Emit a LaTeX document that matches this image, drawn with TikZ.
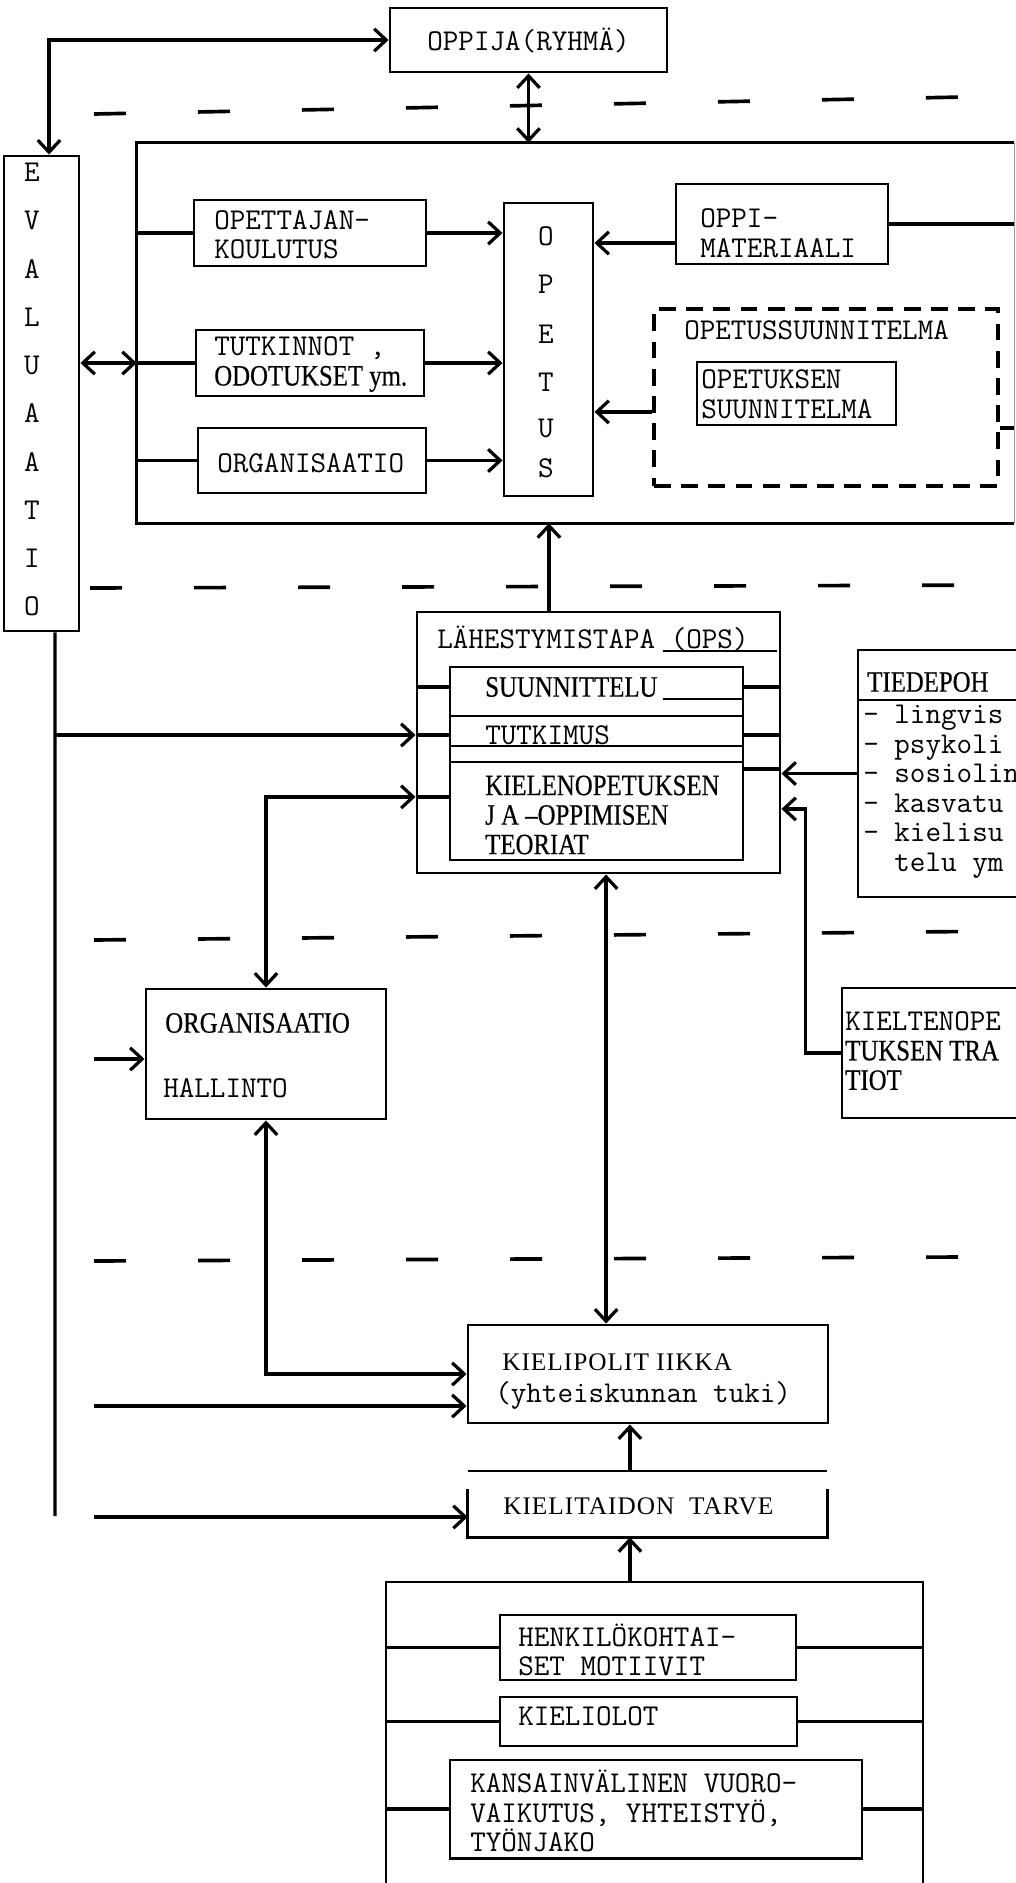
\documentclass[tikz,border=0pt]{standalone}
\usepackage{fontspec}
\usepackage{tikz}
\usetikzlibrary{arrows.meta}
\newfontfamily\serifcond[FakeStretch=0.84,FakeBold=0.5]{Liberation Serif}
\newfontfamily\serifspaced[LetterSpace=4]{Liberation Serif}
\newcommand\condtxt{\fontsize{21}{21}\selectfont\serifcond}

\tikzset{
  box/.style={draw, line width=2.1pt, inner sep=0pt},
  dbox/.style={draw, line width=2.6pt, dash pattern=on 4.2mm off 2.6mm, inner sep=0pt},
  tw/.style={font=\fontsize{21.5}{21}\selectfont\ttfamily, inner sep=0pt, anchor=west, align=left},
  tr/.style={font=\condtxt, inner sep=0pt, anchor=west, align=left},
  ts/.style={font=\fontsize{18}{21}\selectfont\serifspaced, inner sep=0pt, anchor=west},
  link/.style={line width=2.3pt},
  sep/.style={line width=2.6pt, dash pattern=on 8mm off 18mm},
  >={Straight Barb[length=3mm,width=5.6mm]}
}

\begin{document}
\begin{tikzpicture}[x=0.25mm, y=-0.25mm]
    \useasboundingbox (0,0) rectangle (1016,1883);
    \clip (0,0) rectangle (1016,1883);
    \fill[white] (0,0) rectangle (1016,1883);

    % dashed level lines
    \draw[sep] (94,114) -- (1016,96);
    \draw[sep] (90,588) -- (1016,585);
    \draw[sep] (94,940) -- (1016,931);
    \draw[sep] (94,1261) -- (961,1257);

    % learner, evaluation, teaching
    \node[box, tw, anchor=center, minimum width=69.25mm, minimum height=16mm] (oppija) at (528.5,40) {OPPIJA(RYHMÄ)};
    \node[box, minimum width=18.75mm, minimum height=118.75mm] (eval) at (41.5,393.5) {};
    \foreach \ch [count=\i from 0] in {E,V,A,L,U,A,A,T,I,O}
        \node[tw, anchor=center] (ev\i) at (32,{172+48.3*\i}) {\ch};

    \node[inner sep=0pt, minimum width=219.25mm, minimum height=95mm] (frame) at (575.5,333) {};
    \draw[line width=2.3pt] (frame.north east) -- (frame.north west) -- (frame.south west) -- (frame.south east);
    \draw[line width=0.6pt, black!40] (frame.north east) -- (frame.south east);

    \node[box, minimum width=58mm, minimum height=16.5mm] (opk) at (310,233) {};
    \node[tw] (t-opk) at (214,234.5) {OPETTAJAN-\\KOULUTUS};
    \node[box, minimum width=57mm, minimum height=16.5mm] (tutk) at (310,363) {};
    \node[tw] (t-tutk) at (214,364.5) {TUTKINNOT ,\\{\condtxt ODOTUKSET ym.}};
    \node[box, minimum width=57mm, minimum height=16.25mm] (org1) at (312,460.5) {};
    \node[tw] (t-org1) at (217,463) {ORGANISAATIO};

    \node[box, minimum width=22.25mm, minimum height=73.25mm] (opetus) at (548.5,349.5) {};
    \foreach \ch/\yy [count=\i] in {O/236,P/284,E/334,T/382,U/428,S/468}
        \node[tw, anchor=center] (op\i) at (546,\yy) {\ch};

    \node[box, minimum width=53mm, minimum height=20mm] (oppim) at (782,224) {};
    \node[tw] (t-oppim) at (700,233.5) {OPPI-\\MATERIAALI};
    \node[dbox, minimum width=86mm, minimum height=44.25mm] (ops) at (826,397.5) {};
    \node[tw] (t-ops) at (684,330) {OPETUSSUUNNITELMA};
    \node[box, minimum width=49.75mm, minimum height=15.75mm] (opsuun) at (796.5,393.5) {};
    \node[tw] (t-opsuun) at (701,394) {OPETUKSEN\\SUUNNITELMA};

    \coordinate (evx) at (49,43);
    \draw[link, <->] (eval.north -| evx) |- (oppija.west);
    \draw[link, <->] (oppija.south) -- (oppija.south |- frame.north);
    \draw[link, <->] (eval.east |- tutk.west) -- (frame.west |- tutk.west);
    \draw[link] (frame.west |- opk.west) -- (opk.west);
    \draw[link] (frame.west |- tutk.west) -- (tutk.west);
    \draw[link] (frame.west |- org1.west) -- (org1.west);
    \draw[link, ->] (opk.east) -- (opk.east -| opetus.west);
    \draw[link, ->] (tutk.east) -- (tutk.east -| opetus.west);
    \draw[link, ->] (org1.east) -- (org1.east -| opetus.west);
    \coordinate (oppimin) at ([yshift=-4.75mm]oppim.west);
    \draw[link, ->] (oppimin) -- (oppimin -| opetus.east);
    \draw[link] (oppim.east) -- (oppim.east -| frame.east);
    \coordinate (opsin) at ([yshift=-3.6mm]ops.west);
    \draw[link, ->] (opsin) -- (opsin -| opetus.east);
    \coordinate (opsout) at ([yshift=-7.6mm]ops.east);
    \draw[link] (opsout) -- (opsout -| frame.east);

    % approach (OPS)
    \node[box, minimum width=90.75mm, minimum height=65.25mm] (lah) at (598.5,742.5) {};
    \node[tw] (t-lah) at (437,638) {LÄHESTYMISTAPA (OPS)};
    \draw[line width=1.4pt] (663,651) -- (777,651);
    \node[box, minimum width=73.25mm, minimum height=48.25mm] (lahin) at (596.5,763.5) {};
    \foreach \dy in {12.5,20,24}
        \draw[line width=1.4pt] ([yshift=-\dy*1mm]lahin.north west) -- ([yshift=-\dy*1mm]lahin.north east);
    \node[tr] (t-suun) at (485,687) {SUUNNITTELU};
    \draw[line width=1.4pt] (663,699) -- (743,699);
    \node[tw] (t-tutkimus) at (485,735) {TUTKIMUS};
    \node[tr] (t-kielen) at (485,815) {KIELENOPETUKSEN\\J A –OPPIMISEN\\TEORIAT};

    \draw[link] (lah.west |- t-suun) -- (lahin.west |- t-suun);
    \draw[link] (lahin.east |- t-suun) -- (lah.east |- t-suun);
    \draw[link] (lah.west |- t-tutkimus) -- (lahin.west |- t-tutkimus);
    \draw[link] (lahin.east |- t-tutkimus) -- (lah.east |- t-tutkimus);
    \coordinate (lahk) at ([yshift=-13.6mm]lah.west);
    \draw[link] (lahk) -- (lahk -| lahin.west);
    \coordinate (lahr) at ([yshift=-6.6mm]lah.east);
    \draw[link] (lahr -| lahin.east) -- (lahr);

    \coordinate (lahup) at ([xshift=-12.4mm]lah.north);
    \draw[link, ->] (lahup) -- (lahup |- frame.south);
    \coordinate (evb) at ([xshift=3.4mm]eval.south);
    \coordinate (evend) at (55,1516);
    \draw[link] (evb) -- (evend);
    \draw[link, ->] (evb |- t-tutkimus) -- (lah.west |- t-tutkimus);

    % science base and traditions
    \node[box, minimum width=40.5mm, minimum height=61.75mm] (tiede) at (939,773.5) {};
    \node[tr] (t-tiede) at (867,682) {TIEDEPOH};
    \draw[line width=1.6pt] (858,700) -- (1016,700);
    \node[tw] (t-lista) at (863,791.5) {- lingvis\\- psykoli\\- sosiolin\\- kasvatu\\- kielisu\\\hphantom{- }telu ym};
    \draw[link, ->] (tiede.west) -- (tiede.west -| lah.east);

    \node[box, minimum width=44.5mm, minimum height=32.5mm] (kt) at (931,1053) {};
    \node[tw] (t-kt) at (845,1051) {KIELTENOPE\\{\condtxt TUKSEN TRA}\\{\condtxt TIOT}};
    \coordinate (ktin) at ([yshift=-16.6mm]lah.east);
    \coordinate (ktx) at ([xshift=-8.75mm]kt.west);
    \draw[link, ->] (kt.west) -- (ktx) |- (ktin);

    % administration and language policy
    \node[box, minimum width=60mm, minimum height=32.5mm] (hall) at (266,1054) {};
    \node[tr] (t-hall1) at (165,1023) {ORGANISAATIO};
    \node[tw] (t-hall2) at (163,1088) {HALLINTO};
    \draw[link, <->] (hall.north) |- (lahk);

    \node[box, minimum width=90mm, minimum height=24.5mm] (kp) at (648,1374) {};
    \node[ts] (t-kp1) at (502,1362) {KIELIPOLIT IIKKA};
    \node[tw] (t-kp2) at (495,1395) {(yhteiskunnan tuki)};
    \coordinate (lahdn) at ([xshift=1.9mm]lah.south);
    \draw[link, <->] (lahdn) -- (lahdn |- kp.north);
    \draw[link, <->] (hall.south) |- (kp.west);

    \node[inner sep=0pt, minimum width=89.75mm, minimum height=16.5mm] (ktt) at (647.5,1504) {};
    \draw[line width=1.4pt] (ktt.north west) -- (ktt.north east);
    \draw[line width=2.1pt] ([yshift=-4.5mm]ktt.north west) -- (ktt.south west) -- (ktt.south east) -- ([yshift=-4.5mm]ktt.north east);
    \node[ts] (t-ktt) at (503,1506) {KIELITAIDON\ \ TARVE};
    \coordinate (upx) at ([xshift=-4.4mm]ktt.south);
    \draw[link, ->] (upx |- ktt.north) -- (upx |- kp.south);

    \coordinate (in1) at (94,1059);
    \coordinate (in2) at (94,1406);
    \coordinate (in3) at (94,1517);
    \draw[link, ->] (in1) -- (in1 -| hall.west);
    \draw[link, ->] (in2) -- (in2 -| kp.west);
    \draw[link, ->] (in3) -- (in3 -| ktt.west);

    % background factors
    \node[box, minimum width=134.25mm, minimum height=78.25mm] (grp) at (654.5,1738.5) {};
    \draw[link, ->] (upx |- grp.north) -- (upx);
    \node[box, minimum width=74mm, minimum height=16.25mm] (henk) at (648,1647.5) {};
    \node[tw] (t-henk) at (518,1650) {HENKILÖKOHTAI-\\SET MOTIIVIT};
    \node[box, minimum width=74.25mm, minimum height=12.25mm] (kieli) at (648.5,1721.5) {};
    \node[tw] (t-kieli) at (518,1716) {KIELIOLOT};
    \node[box, minimum width=103mm, minimum height=24.5mm] (kans) at (656,1809) {};
    \node[tw] (t-kans) at (470,1811) {KANSAINVÄLINEN VUORO-\\VAIKUTUS, YHTEISTYÖ,\\TYÖNJAKO};
    \foreach \b in {henk,kieli,kans} {
        \draw[link] (grp.west |- \b.west) -- (\b.west);
        \draw[link] (\b.east) -- (\b.east -| grp.east);
    }
\end{tikzpicture}
\end{document}
